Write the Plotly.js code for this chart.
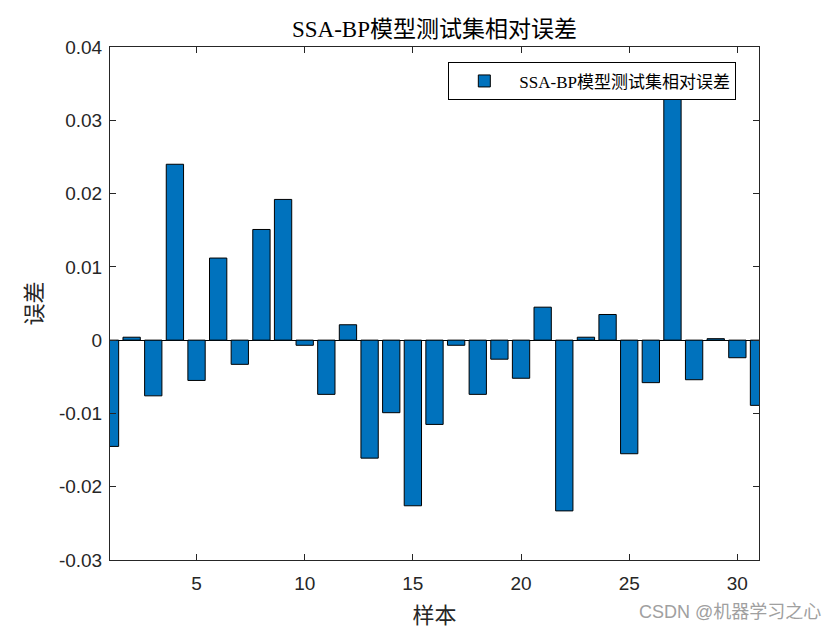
<!DOCTYPE html>
<html>
<head>
<meta charset="utf-8">
<script src="https://cdn.plot.ly/plotly-3.0.1.min.js"></script>
<style>html,body{margin:0;padding:0;background:#fff;}#chart{width:840px;height:630px;}</style>
</head>
<body>
<div id="chart"></div>
<script>
const samples = [1,2,3,4,5,6,7,8,9,10,11,12,13,14,15,16,17,18,19,20,21,22,23,24,25,26,27,28,29,30,31];
const errors = [-0.0145, 0.0004, -0.0076, 0.0240, -0.0055, 0.0112, -0.0033, 0.0151, 0.0192, -0.0007,
                -0.0074, 0.0021, -0.0161, -0.0099, -0.0226, -0.0115, -0.0007, -0.0074, -0.0026, -0.0052,
                0.0045, -0.0233, 0.0004, 0.0035, -0.0155, -0.0058, 0.0355, -0.0054, 0.0002, -0.0024, -0.0089];
const xTickVals = [5,10,15,20,25,30];
const yTickVals = [-0.03,-0.02,-0.01,0,0.01,0.02,0.03,0.04];
const yTickText = ['-0.03','-0.02','-0.01','0','0.01','0.02','0.03','0.04'];
const seriesName = 'SSA-BP模型测试集相对误差';
const titleText = 'SSA-BP模型测试集相对误差';
const xTitle = '样本';
const yTitle = '误差';
const watermark = 'CSDN @机器学习之心';

const serif = '"Liberation Serif", "Times New Roman", "Noto Sans CJK SC", serif';
const sans = '"Liberation Sans", Arial, "Noto Sans CJK SC", sans-serif';
const axisColor = '#262626';

const trace = {
  type: 'bar',
  x: samples,
  y: errors,
  name: seriesName,
  width: 0.8,
  marker: {color: '#0072BD', line: {color: '#000000', width: 1}},
  showlegend: true
};

const axisCommon = {
  showline: true, linecolor: axisColor, linewidth: 1,
  mirror: 'ticks', ticks: 'inside', ticklen: 6, tickcolor: axisColor, tickwidth: 1,
  showgrid: false,
  tickfont: {family: sans, size: 19, color: axisColor}
};

const layout = {
  width: 840, height: 630,
  margin: {l: 110, r: 81, t: 47, b: 70},
  paper_bgcolor: '#ffffff', plot_bgcolor: '#ffffff',
  title: {
    text: titleText,
    font: {family: serif, size: 23, color: '#000000', weight: 'normal'},
    x: 0.5, xref: 'paper', y: 1 - 29/630, yref: 'container', yanchor: 'middle'
  },
  xaxis: Object.assign({}, axisCommon, {
    range: [1, 31], tickvals: xTickVals, zeroline: false, ticklabelstandoff: 6,
    title: {text: xTitle, font: {family: serif, size: 22, color: axisColor, weight: 'normal'}, standoff: 14}
  }),
  yaxis: Object.assign({}, axisCommon, {
    range: [-0.03, 0.04], tickvals: yTickVals, ticktext: yTickText, ticklabelstandoff: 3,
    zeroline: true, zerolinecolor: '#000000', zerolinewidth: 1,
    title: {text: yTitle, font: {family: serif, size: 22, color: axisColor, weight: 'normal'}, standoff: 10}
  }),
  legend: {
    x: 0.5213, y: 0.970, xanchor: 'left', yanchor: 'top',
    bgcolor: '#ffffff', bordercolor: '#000000', borderwidth: 1,
    font: {family: serif, size: 17, color: '#000000'},
    itemwidth: 60
  },
  annotations: [{
    text: watermark, xref: 'paper', yref: 'paper',
    x: 1.0986, y: -0.1008, xanchor: 'right', yanchor: 'middle',
    showarrow: false, font: {family: sans, size: 18, color: '#a0a0a0'}
  }],
  bargap: 0.2
};

Plotly.newPlot('chart', [trace], layout, {displayModeBar: false, staticPlot: true});
</script>
</body>
</html>
